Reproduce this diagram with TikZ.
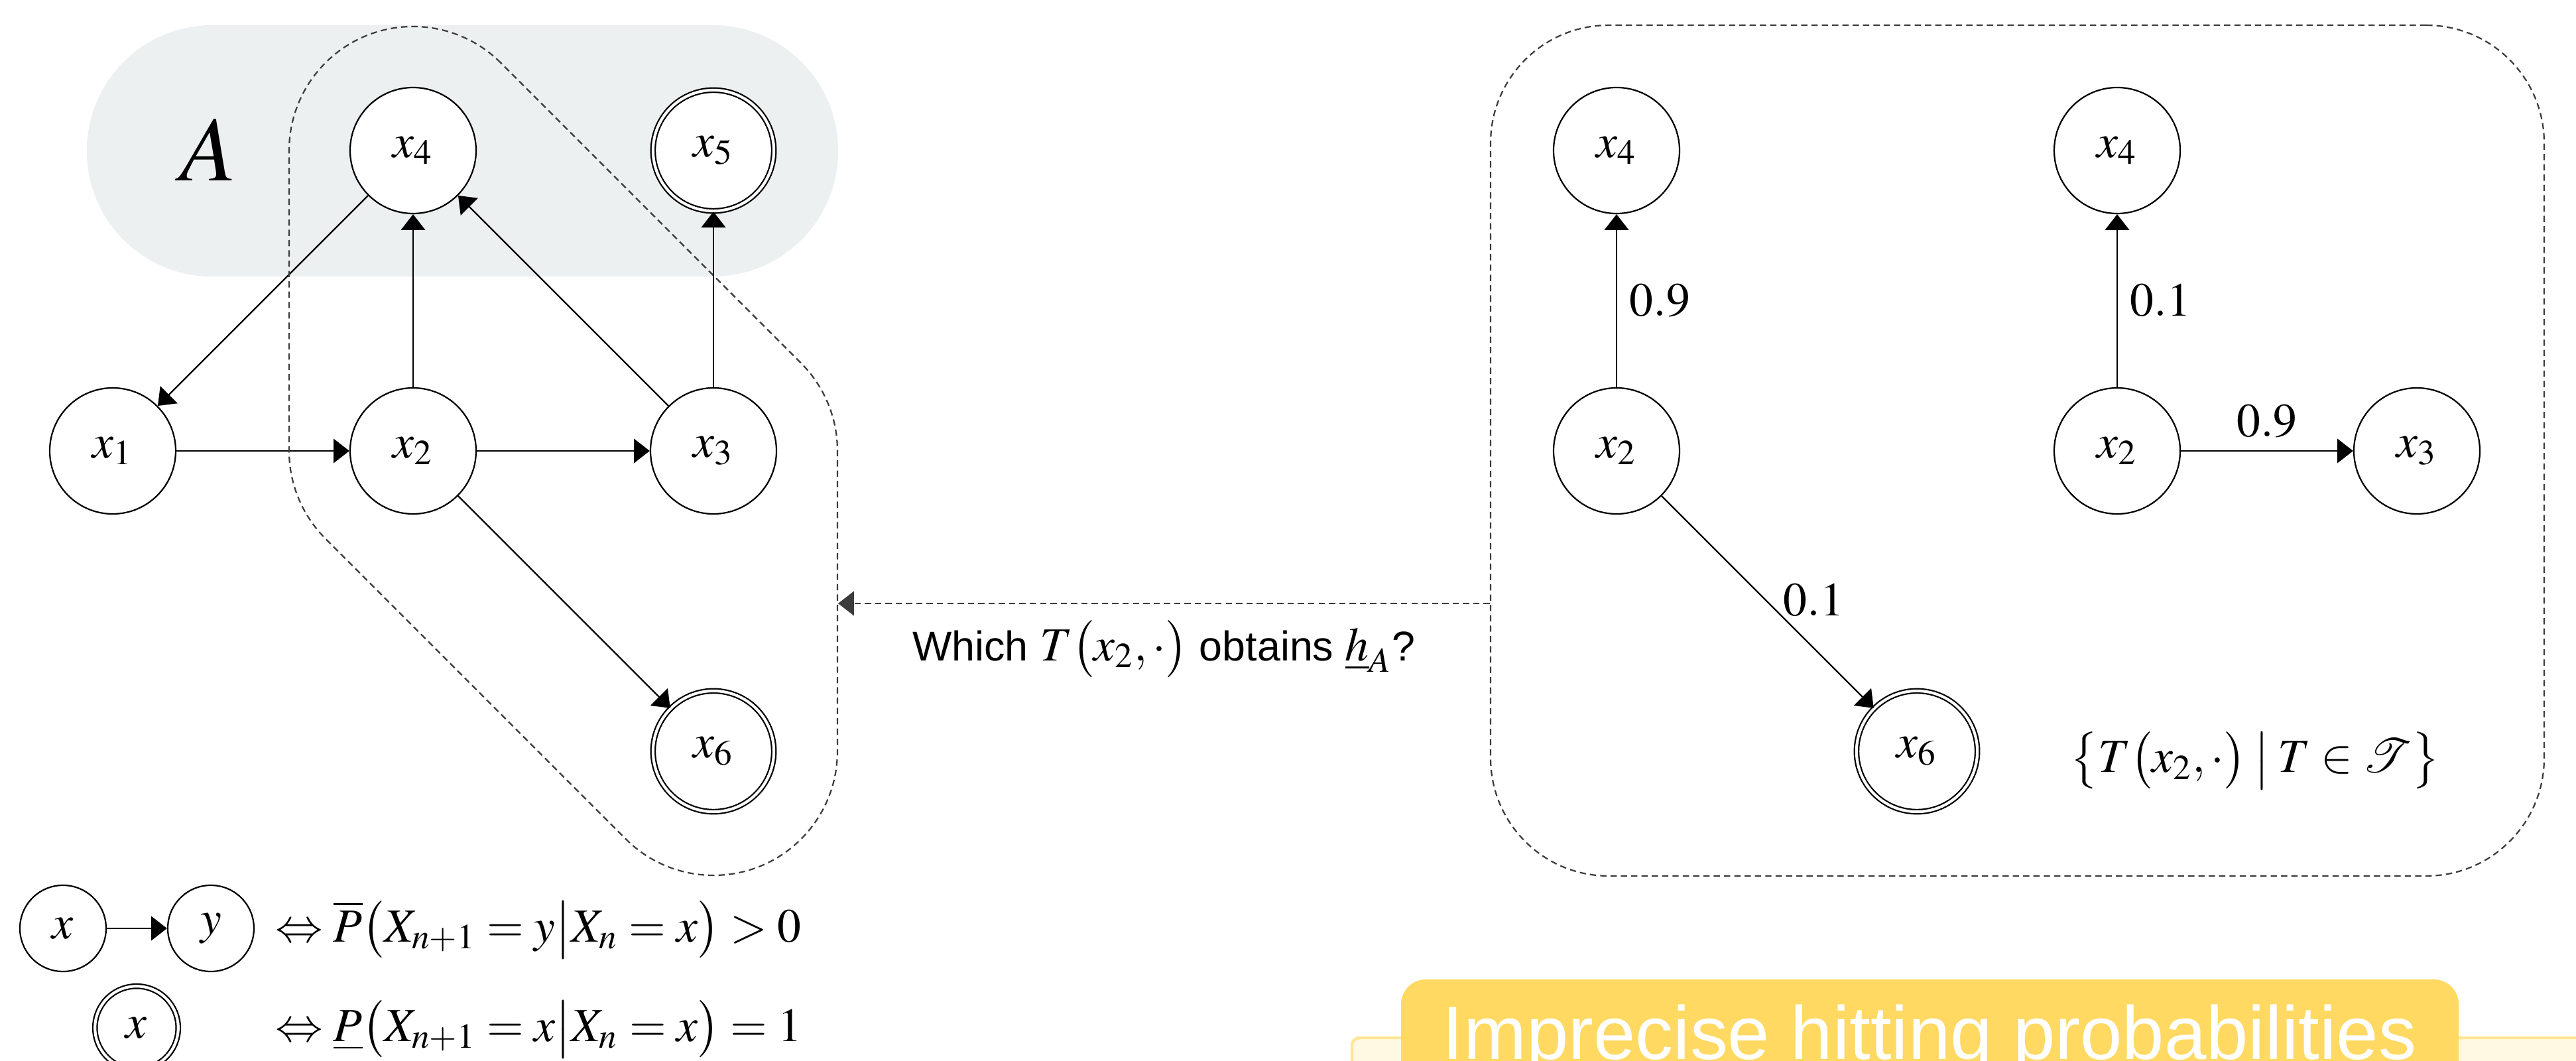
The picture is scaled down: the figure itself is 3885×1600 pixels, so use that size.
\documentclass[tikz,border=0pt]{standalone}
\usepackage{mathptmx}
\usepackage[no-math]{fontspec}
\setmainfont{Liberation Serif}
\setsansfont{Liberation Sans}
\usetikzlibrary{arrows.meta,calc}
\definecolor{Agrey}{RGB}{236,240,241}
\definecolor{dgrey}{RGB}{60,60,60}
\definecolor{banY}{RGB}{255,217,98}
\definecolor{lightY}{RGB}{255,248,227}
\definecolor{lineY}{RGB}{255,230,150}
\begin{document}
\begin{tikzpicture}[x=0.18pt,y=-0.18pt,
  mfont/.style={font=\fontsize{12.9}{15.5}\selectfont},
  st/.style={circle, draw=black, line width=0.4pt, fill=white, minimum size=34.2pt, inner sep=0pt, mfont},
  ab/.style={st, double, double distance=0.75pt, minimum size=32.8pt},
  lg/.style={st, minimum size=23.4pt},
  lgab/.style={ab, minimum size=22.6pt},
  edge/.style={line width=0.4pt, -{Triangle[length=4.3pt,width=6.6pt]}},
  dsh/.style={draw=dgrey, line width=0.4pt, dash pattern=on 1.7pt off 1.1pt},
  lbl/.style={mfont},
]
\useasboundingbox (0,0) rectangle (3885,1600);
\clip (0,0) rectangle (3885,1600);

% shaded set A
\fill[Agrey, rounded corners=34pt] (131,38) rectangle (1264,417);
\node[font=\fontsize{25}{30}\selectfont, anchor=base, inner sep=0pt] (Alab) at (314,273) {$A$};

% left graph
\node[st] (x4) at (623,227) {$x_4$};
\node[ab] (x5) at (1076,227) {$x_5$};
\node[st] (x1) at (170,680) {$x_1$};
\node[st] (x2) at (623,680) {$x_2$};
\node[st] (x3) at (1076,680) {$x_3$};
\node[ab] (x6) at (1076,1133) {$x_6$};

\draw[edge] (x4) -- (x1);
\draw[edge] (x1) -- (x2);
\draw[edge] (x2) -- (x4);
\draw[edge] (x2) -- (x3);
\draw[edge] (x3) -- (x4);
\draw[edge] (x3) -- (x5);
\draw[edge] (x2) -- (x6);

% dashed hull
\draw[dsh] ([shift={(-45:187)}]x4.center) arc[start angle=-45,end angle=-180,radius=187]
  -- ([shift={(180:187)}]x2.center) arc[start angle=180,end angle=135,radius=187]
  -- ([shift={(135:187)}]x6.center) arc[start angle=135,end angle=0,radius=187]
  -- ([shift={(0:187)}]x3.center) arc[start angle=0,end angle=-45,radius=187] -- cycle;

% right panel
\node[dsh, draw, rounded corners=32pt, minimum width=286pt, minimum height=230.9pt, inner sep=0pt] (rbox) at (3042.5,679.5) {};
\node[st] (x4L) at (2438,227) {$x_4$};
\node[st] (x2L) at (2438,680) {$x_2$};
\node[ab] (x6R) at (2891,1133) {$x_6$};
\node[st] (x4R) at (3193,227) {$x_4$};
\node[st] (x2R) at (3193,680) {$x_2$};
\node[st] (x3R) at (3645,680) {$x_3$};

\draw[edge] (x2L) -- node[lbl, right] {$0.9$} (x4L);
\draw[edge] (x2L) -- node[lbl, pos=0.57, anchor=south west, inner sep=0pt] {$0.1$} (x6R);
\draw[edge] (x2R) -- node[lbl, right] {$0.1$} (x4R);
\draw[edge] (x2R) -- node[lbl, above] {$0.9$} (x3R);

\node[mfont] (set) at (3401,1147) {$\bigl\{T\bigl(x_2,\cdot\bigr)\mskip3mu\big|\mskip3mu T\in\mathcal{T}\bigr\}$};

% question arrow
\coordinate (qpt) at (1264,910);
\draw[dsh, -{Triangle[length=4.3pt,width=6.6pt]}] (rbox.west |- qpt) -- (qpt)
  node[midway, below=1pt, font=\fontsize{11.3}{13.5}\sffamily] (q) {Which {\fontsize{12.9}{15}\selectfont$T\bigl(x_2,\cdot\bigr)$} obtains {\fontsize{12.9}{15}\selectfont$\underline{h}_A$}?};

% legend
\node[lg] (lx) at (95,1400) {$x$};
\node[lg] (ly) at (318,1400) {$y$};
\draw[edge] (lx) -- (ly);
\node[mfont, anchor=base west, inner sep=0pt] (f1) at (414,1420) {$\Leftrightarrow \overline{P}\bigl(X_{n+1}=y\big|X_n=x\bigr)>0$};
\node[lgab] (lz) at (206,1550) {$x$};
\node[mfont, anchor=base west, inner sep=0pt] (f2) at (414,1570) {$\Leftrightarrow \underline{P}\bigl(X_{n+1}=x\big|X_n=x\bigr)=1$};

% banner
\filldraw[fill=lightY, draw=lineY, line width=0.8pt, rounded corners=2pt] (2039,1565) rectangle (4000,1750);
\fill[banY, rounded corners=6.7pt] (2113,1477) rectangle (3708,1750);
\node[anchor=base, text=white, font=\fontsize{20.5}{24}\sffamily, inner sep=0pt] (bt) at (2910,1597) {Imprecise hitting probabilities};
\end{tikzpicture}
\end{document}
